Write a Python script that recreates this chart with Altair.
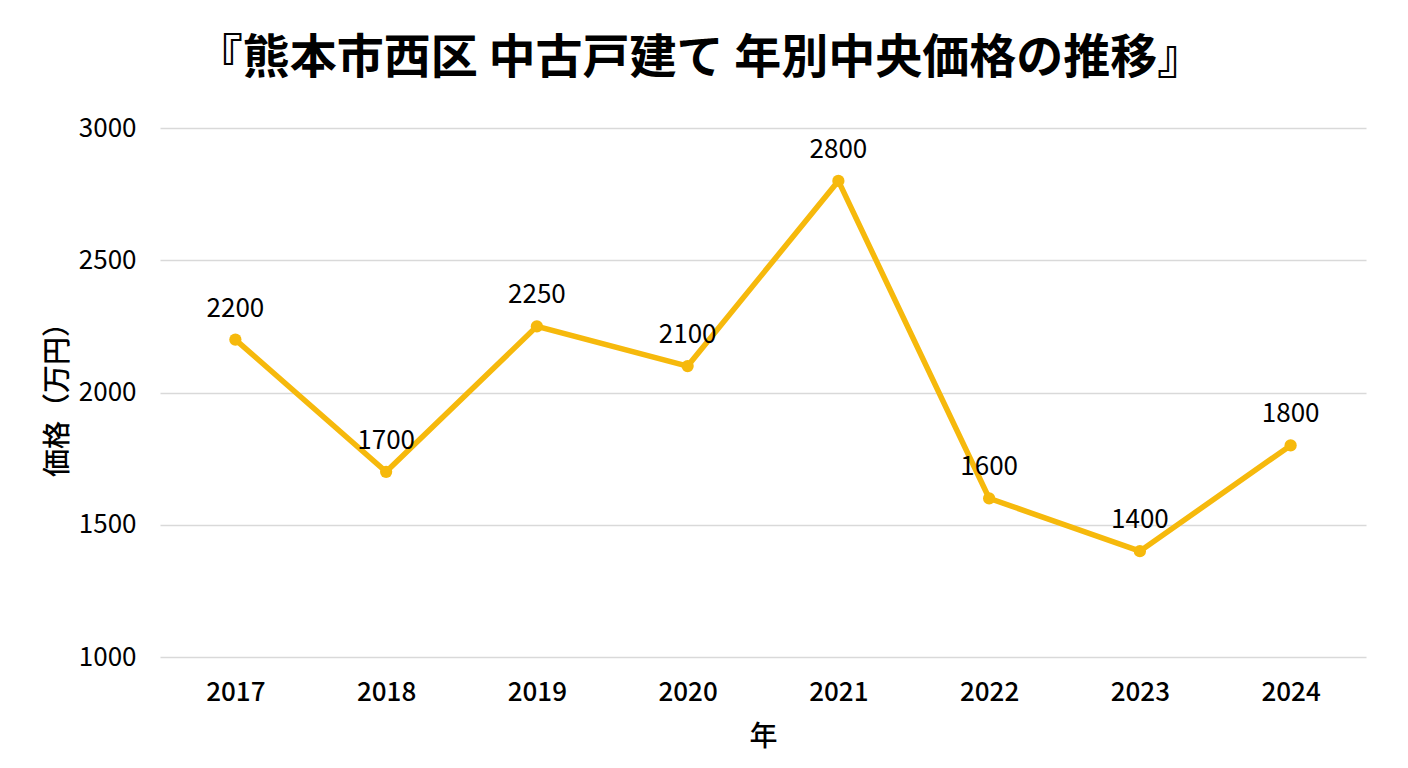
import altair as alt
import pandas as pd

years = ["2017", "2018", "2019", "2020", "2021", "2022", "2023", "2024"]
prices = [2200, 1700, 2250, 2100, 2800, 1600, 1400, 1800]
y_ticks = [1000, 1500, 2000, 2500, 3000]

df = pd.DataFrame({"年": years, "価格": prices})

FONT = "Noto Sans CJK JP"
GOLD = "#F6B90C"

base = alt.Chart(df).encode(
    x=alt.X("年:O", sort=years,
            scale=alt.Scale(type="point", padding=0.5),
            axis=alt.Axis(title="年", labelAngle=0, labelFontSize=26, labelFontWeight=500,
                          labelColor="#000", labelPadding=22, titleFontSize=28,
                          titleFontWeight=500, titleColor="#000", titlePadding=18,
                          domain=False, ticks=False, grid=False, labelFont=FONT, titleFont=FONT)),
    y=alt.Y("価格:Q", scale=alt.Scale(domain=[1000, 3000], nice=False, zero=False),
            axis=alt.Axis(title="価格（万円）", values=y_ticks, format="d", labelFontSize=26,
                          labelColor="#000", labelPadding=24, titleFontSize=28,
                          titleFontWeight=500, titleColor="#000", titlePadding=6,
                          domain=False, ticks=False, grid=True, gridColor="#D9D9D9",
                          gridWidth=1.5, labelFont=FONT, titleFont=FONT)),
)

line = base.mark_line(color=GOLD, strokeWidth=5.5)
points = base.mark_point(filled=True, color=GOLD, size=150, opacity=1)
labels = base.mark_text(font=FONT, fontSize=26, color="#000", dy=-23,
                        baseline="alphabetic", align="center").encode(text="価格:Q")

chart = (line + points + labels).properties(
    width=1206,
    height=529,
    background="white",
    autosize=alt.AutoSizeParams(type="none"),
    padding={"left": 152, "top": 120, "right": 34, "bottom": 103},
    title=alt.TitleParams(
        text="『熊本市西区 中古戸建て 年別中央価格の推移』",
        font=FONT, fontSize=47, fontWeight="bold", color="#000",
        anchor="middle", dx=-63, offset=32,
    ),
).configure_view(stroke="transparent", strokeWidth=0)

chart.save("out.html", embed_options={"renderer": "svg", "actions": False})
